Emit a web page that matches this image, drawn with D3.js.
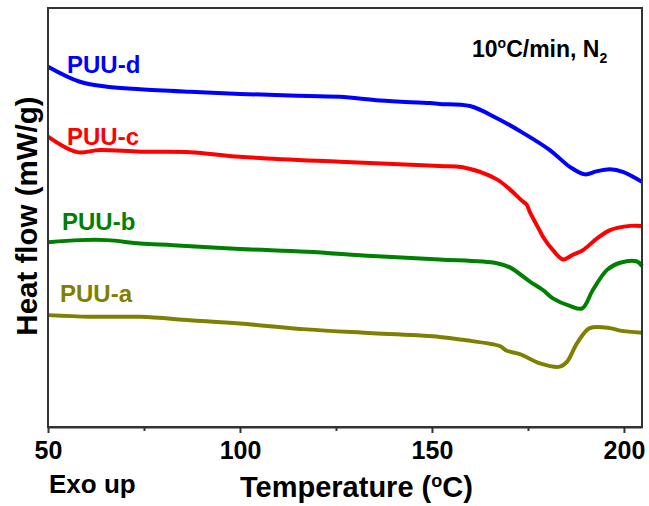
<!DOCTYPE html>
<html>
<head>
<meta charset="utf-8">
<script src="https://cdn.jsdelivr.net/npm/d3@7"></script>
<style>
	body { margin: 0; background: #fff; }
	svg { display: block; font-family: Arial, "Liberation Sans", sans-serif; font-weight: bold; }
</style>
</head>
<body>
<div id="draw_area"></div>
<script>
// temperatures (°C) and heat flow (arbitrary offset units)
var tempD = [50, 58.3, 65.4, 74, 87, 100, 113, 126, 136.5, 149.5, 152, 159.9, 166.9, 173.7, 180.7, 185.9, 189.8, 192.8, 196.4, 199.7, 204.7]
var flowD = [8.60, 8.24, 8.12, 8.06, 8.00, 7.95, 7.91, 7.88, 7.79, 7.73, 7.71, 7.66, 7.37, 7.02, 6.61, 6.21, 6.03, 6.10, 6.15, 6.09, 5.85]

var tempC = [50, 57.6, 63.5, 74, 87, 100, 126, 152, 158, 166.9, 173.7, 174.7, 175.5, 178.1, 178.9, 181.5, 184.1, 186.7, 189.3, 193, 196.4, 201.6, 204.7]
var flowC = [6.93, 6.56, 6.61, 6.57, 6.56, 6.45, 6.33, 6.23, 6.20, 5.91, 5.38, 5.30, 5.13, 4.68, 4.54, 4.22, 4.00, 4.11, 4.22, 4.50, 4.70, 4.80, 4.80]

var tempB = [50, 58.3, 65.4, 74, 82.6, 100, 117.4, 134.6, 152, 166.9, 170.3, 175.5, 178.9, 181.5, 185.9, 189.1, 191.9, 195.6, 199, 203.4, 204.7]
var flowB = [4.41, 4.46, 4.46, 4.38, 4.34, 4.25, 4.18, 4.08, 4.00, 3.91, 3.81, 3.47, 3.27, 3.07, 2.89, 2.83, 3.27, 3.75, 3.92, 3.95, 3.84]

var tempA = [50, 60.9, 74, 87, 100, 117.4, 134.6, 152, 158, 167.7, 169.5, 172.9, 178.1, 183.3, 185.2, 187.8, 191.1, 196.4, 199, 204.7]
var flowA = [2.67, 2.63, 2.63, 2.55, 2.47, 2.33, 2.24, 2.15, 2.08, 1.93, 1.82, 1.74, 1.52, 1.44, 1.56, 2.00, 2.36, 2.36, 2.30, 2.25]

var seriesNames = ['PUU-d', 'PUU-c', 'PUU-b', 'PUU-a']
var seriesColors = ['#0000ff', '#ff0000', '#008000', '#808000']
var majorTicks = [50, 100, 150, 200]
var minorTicks = [75, 125, 175]

var W = 649, H = 506
var plot = { left: 48, right: 642, top: 8, bottom: 427 }

var svg = d3.select('#draw_area').append('svg')
	.attr('width', W)
	.attr('height', H)

var x = d3.scaleLinear().domain([50, 204.7]).range([plot.left, plot.right])
var y = d3.scaleLinear().domain([0, 10]).range([plot.bottom, plot.top])

var series = [
	{ name: seriesNames[0], color: seriesColors[0], t: tempD, f: flowD, lx: 67, ly: 73 },
	{ name: seriesNames[1], color: seriesColors[1], t: tempC, f: flowC, lx: 67, ly: 145 },
	{ name: seriesNames[2], color: seriesColors[2], t: tempB, f: flowB, lx: 62, ly: 230 },
	{ name: seriesNames[3], color: seriesColors[3], t: tempA, f: flowA, lx: 60, ly: 302 },
]

var line = d3.line()
	.x((d) => x(d[0]))
	.y((d) => y(d[1]))
	.curve(d3.curveCatmullRom.alpha(0.5))

// curves
series.forEach(function (s) {
	svg.append('path')
		.datum(d3.zip(s.t, s.f))
		.attr('d', line)
		.attr('fill', 'none')
		.attr('stroke', s.color)
		.attr('stroke-width', 4)
		.attr('stroke-linejoin', 'round')

	svg.append('text')
		.attr('x', s.lx)
		.attr('y', s.ly)
		.attr('fill', s.color)
		.style('font-size', '24px')
		.text(s.name)
})

// frame
svg.append('rect')
	.attr('x', plot.left)
	.attr('y', plot.top)
	.attr('width', plot.right - plot.left)
	.attr('height', plot.bottom - plot.top)
	.attr('fill', 'none')
	.attr('stroke', '#333')
	.attr('stroke-width', 2)

// bottom axis
var xAxis = d3.axisBottom(x).tickValues(majorTicks).tickSize(6).tickSizeOuter(0).tickPadding(8)
var gx = svg.append('g')
	.attr('transform', `translate(0,${plot.bottom})`)
	.call(xAxis)
gx.select('.domain').attr('stroke', '#333').attr('stroke-width', 2)
gx.selectAll('.tick line').attr('stroke', '#333').attr('stroke-width', 2)
gx.selectAll('.tick text')
	.attr('fill', '#000')
	.style('font-size', '25px')
	.style('font-family', 'Arial, "Liberation Sans", sans-serif')
	.style('font-weight', 'bold')

svg.append('g')
	.attr('transform', `translate(0,${plot.bottom})`)
	.call(d3.axisBottom(x).tickValues(minorTicks).tickSize(4).tickFormat(''))
	.call((g) => g.select('.domain').remove())
	.selectAll('.tick line').attr('stroke', '#333').attr('stroke-width', 2)

// axis titles
svg.append('text')
	.attr('x', 49)
	.attr('y', 493)
	.style('font-size', '26px')
	.text('Exo up')

var xt = svg.append('text')
	.attr('x', 240)
	.attr('y', 497)
	.style('font-size', '29px')
xt.append('tspan').text('Temperature (')
xt.append('tspan').attr('dy', -10).style('font-size', '18px').text('o')
xt.append('tspan').attr('dy', 10).text('C)')

svg.append('text')
	.attr('transform', 'translate(37,216) rotate(-90)')
	.attr('text-anchor', 'middle')
	.style('font-size', '29.5px')
	.text('Heat flow (mW/g)')

// conditions note
var note = svg.append('text')
	.attr('x', 472)
	.attr('y', 57)
	.style('font-size', '23px')
note.append('tspan').text('10')
note.append('tspan').attr('dy', -9).style('font-size', '14px').text('o')
note.append('tspan').attr('dy', 9).text('C/min, N')
note.append('tspan').attr('dy', 6).style('font-size', '14px').text('2')
</script>
</body>
</html>
